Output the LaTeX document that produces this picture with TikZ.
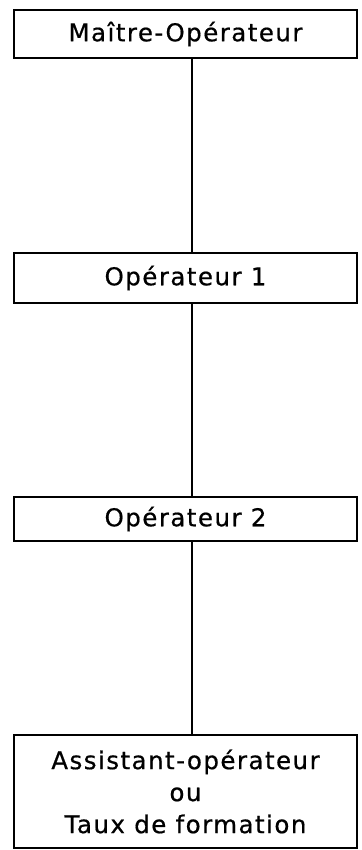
\documentclass[tikz,border=0pt]{standalone}
\usepackage{fontspec}
\setmainfont{DejaVu Sans}[LetterSpace=6,FakeBold=0.6]
\begin{document}
\begin{tikzpicture}[x=1pt,y=-1pt,
  box/.style={draw, line width=2pt, minimum width=343pt, inner sep=0pt,
    align=center, font=\fontsize{24.5}{32}\selectfont},
  link/.style={line width=1.6pt}]
\fill[white] (0,0) rectangle (361,850);
\useasboundingbox (0,0) rectangle (361,850);
\node[box, minimum height=48pt] (m) at (185.5,34) {Maître-Opérateur};
\node[box, minimum height=50pt] (o1) at (185.5,278) {Opérateur 1};
\node[box, minimum height=44pt] (o2) at (185.5,519) {Opérateur 2};
\node[box, minimum height=113pt] (a) at (185.5,791.5) {Assistant-opérateur\\ou\\Taux de formation};
\coordinate (l) at (192,0);
\draw[link] (m.south -| l) -- (o1.north -| l);
\draw[link] (o1.south -| l) -- (o2.north -| l);
\draw[link] (o2.south -| l) -- (a.north -| l);
\end{tikzpicture}
\end{document}
